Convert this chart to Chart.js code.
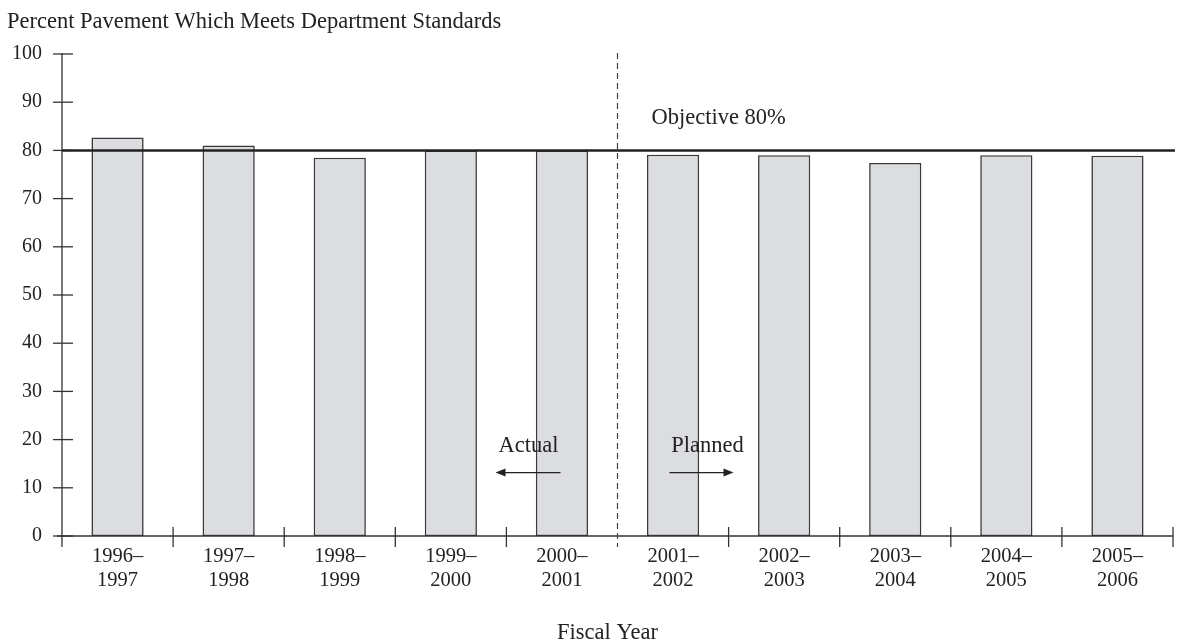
<!DOCTYPE html>
<html>
<head>
<meta charset="utf-8">
<script src="https://cdn.jsdelivr.net/npm/chart.js@4/dist/chart.umd.min.js"></script>
<style>
  html, body { margin: 0; padding: 0; background: #fff; }
  #wrap { position: relative; width: 1177px; height: 644px; }
</style>
</head>
<body>
<div id="wrap"><canvas id="c" width="1177" height="644"></canvas></div>
<script>
// ---- data ----
const categories = [
  ["1996–", "1997"], ["1997–", "1998"], ["1998–", "1999"], ["1999–", "2000"], ["2000–", "2001"],
  ["2001–", "2002"], ["2002–", "2003"], ["2003–", "2004"], ["2004–", "2005"], ["2005–", "2006"]
];
const percentValues = [82.7, 81.0, 78.5, 80.0, 80.0, 79.1, 79.0, 77.4, 79.0, 78.9];
const yTickValues = [0, 10, 20, 30, 40, 50, 60, 70, 80, 90, 100];
const objectiveValue = 80;
const objectiveLabel = "Objective 80%";
const chartTitle = "Percent Pavement Which Meets Department Standards";
const xAxisTitle = "Fiscal Year";
const actualLabel = "Actual";
const plannedLabel = "Planned";
const lastActualIndex = 4; // divider between index 4 and 5

const FONT = '"Liberation Serif", "Times New Roman", serif';
const INK = '#222';

const overlay = {
  id: 'overlay',
  afterDatasetsDraw(chart) {
    const { ctx, chartArea } = chart;
    const x = chart.scales.x, y = chart.scales.y;
    const y0 = y.getPixelForValue(0);
    ctx.save();
    ctx.strokeStyle = '#333';
    ctx.lineWidth = 1.3;
    // y axis line
    ctx.beginPath();
    ctx.moveTo(chartArea.left, y.getPixelForValue(100) - 1);
    ctx.lineTo(chartArea.left, y0 + 11);
    ctx.stroke();
    // y ticks (crossing)
    yTickValues.forEach(v => {
      const py = y.getPixelForValue(v);
      ctx.beginPath();
      ctx.moveTo(chartArea.left - 9, py);
      ctx.lineTo(chartArea.left + 11, py);
      ctx.stroke();
    });
    // x axis line
    ctx.beginPath();
    ctx.moveTo(chartArea.left - 5, y0);
    ctx.lineTo(chartArea.right, y0);
    ctx.stroke();
    // x ticks at category boundaries
    const half = (x.getPixelForValue(1) - x.getPixelForValue(0)) / 2;
    for (let i = 0; i < categories.length; i++) {
      if (i === lastActualIndex) continue;
      const px = x.getPixelForValue(i) + half;
      ctx.beginPath();
      ctx.moveTo(px, y0 - 9);
      ctx.lineTo(px, y0 + 11);
      ctx.stroke();
    }
    // objective line
    const oy = y.getPixelForValue(objectiveValue);
    ctx.strokeStyle = '#222';
    ctx.lineWidth = 2.5;
    ctx.beginPath();
    ctx.moveTo(chartArea.left, oy);
    ctx.lineTo(chartArea.right + 2, oy);
    ctx.stroke();
    // dashed divider
    const dx = x.getPixelForValue(lastActualIndex) + half;
    ctx.strokeStyle = '#444';
    ctx.lineWidth = 1.2;
    ctx.setLineDash([6, 4]);
    ctx.beginPath();
    ctx.moveTo(dx, y.getPixelForValue(100) - 1);
    ctx.lineTo(dx, y0 + 11);
    ctx.stroke();
    ctx.setLineDash([]);

    // texts
    ctx.fillStyle = INK;
    ctx.font = '22.5px ' + FONT;
    ctx.textBaseline = 'middle';
    ctx.textAlign = 'left';
    ctx.fillText(objectiveLabel, dx + 34, y.getPixelForValue(86.8));

    // Actual / Planned
    const ay = y.getPixelForValue(13.15);
    const ty = y.getPixelForValue(18.6);
    ctx.textAlign = 'center';
    ctx.fillText(actualLabel, dx - 89, ty);
    ctx.fillText(plannedLabel, dx + 90, ty);
    ctx.strokeStyle = '#222';
    ctx.fillStyle = '#222';
    ctx.lineWidth = 1.3;
    // left arrow
    ctx.beginPath(); ctx.moveTo(dx - 57, ay); ctx.lineTo(dx - 116, ay); ctx.stroke();
    ctx.beginPath(); ctx.moveTo(dx - 122, ay); ctx.lineTo(dx - 112, ay - 4); ctx.lineTo(dx - 112, ay + 4); ctx.closePath(); ctx.fill();
    // right arrow
    ctx.beginPath(); ctx.moveTo(dx + 52, ay); ctx.lineTo(dx + 110, ay); ctx.stroke();
    ctx.beginPath(); ctx.moveTo(dx + 116, ay); ctx.lineTo(dx + 106, ay - 4); ctx.lineTo(dx + 106, ay + 4); ctx.closePath(); ctx.fill();

    // titles
    ctx.fillStyle = INK;
    ctx.font = '22.5px ' + FONT;
    ctx.textAlign = 'left';
    ctx.textBaseline = 'alphabetic';
    ctx.fillText(chartTitle, 7, 28);
    ctx.textAlign = 'center';
    ctx.fillText(xAxisTitle, dx - 10, 639);
    ctx.restore();
  }
};

new Chart(document.getElementById('c'), {
  type: 'bar',
  data: {
    labels: categories,
    datasets: [{
      data: percentValues,
      backgroundColor: '#dcdde0',
      borderColor: '#3a3a3a',
      borderWidth: 1.6,
      borderSkipped: false,
      categoryPercentage: 1.0,
      barPercentage: 0.47
    }]
  },
  options: {
    responsive: false,
    animation: false,
    devicePixelRatio: 1,
    layout: { padding: { top: 54, right: 4, left: 0, bottom: 0 } },
    plugins: { legend: { display: false }, tooltip: { enabled: false }, title: { display: false } },
    scales: {
      x: {
        offset: true,
        grid: { display: false, drawTicks: false },
        border: { display: false },
        ticks: {
          color: INK,
          font: { family: FONT, size: 20.5, lineHeight: 1.17 },
          padding: 9,
          maxRotation: 0,
          autoSkip: false
        },
        afterFit(scale) { scale.height = 108; }
      },
      y: {
        min: 0, max: 100,
        grid: { display: false, drawTicks: false },
        border: { display: false },
        ticks: {
          stepSize: 10,
          color: INK,
          font: { family: FONT, size: 20 },
          padding: 20
        },
        afterFit(scale) { scale.width = 62; }
      }
    }
  },
  plugins: [overlay]
});
</script>
</body>
</html>
